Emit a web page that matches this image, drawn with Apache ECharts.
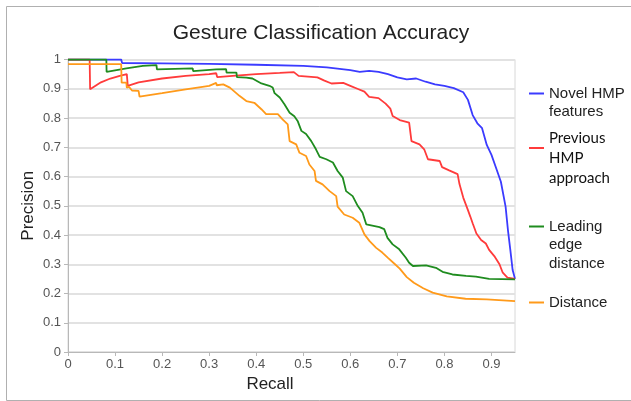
<!DOCTYPE html>
<html><head><meta charset="utf-8">
<script src="https://cdn.jsdelivr.net/npm/echarts@6/dist/echarts.min.js"></script>
<style>html,body{margin:0;padding:0;background:#fff}#c{width:631px;height:401px}</style>
</head><body><div id="c"></div>
<script>
const seriesNames = ['Novel HMP features', 'Previous HMP approach', 'Leading edge distance', 'Distance'];
const xTicks = [0, 0.1, 0.2, 0.3, 0.4, 0.5, 0.6, 0.7, 0.8, 0.9];
const yTicks = [0, 0.1, 0.2, 0.3, 0.4, 0.5, 0.6, 0.7, 0.8, 0.9, 1];

const novelRecall = [0, 0.113, 0.115, 0.2, 0.3, 0.4, 0.5, 0.55, 0.6, 0.62, 0.64, 0.66, 0.68, 0.70, 0.72, 0.74, 0.76, 0.78, 0.80, 0.82, 0.84, 0.85, 0.86, 0.87, 0.88, 0.89, 0.90, 0.91, 0.92, 0.93, 0.935, 0.94, 0.945, 0.95];
const novelPrecision = [1.0, 1.0, 0.988, 0.987, 0.985, 0.982, 0.978, 0.973, 0.964, 0.958, 0.961, 0.958, 0.95, 0.939, 0.932, 0.935, 0.924, 0.915, 0.91, 0.902, 0.888, 0.862, 0.81, 0.782, 0.765, 0.708, 0.674, 0.628, 0.582, 0.497, 0.417, 0.35, 0.28, 0.25];

const prevRecall = [0, 0.046, 0.047, 0.07, 0.09, 0.11, 0.125, 0.127, 0.15, 0.2, 0.25, 0.3, 0.315, 0.317, 0.35, 0.4, 0.45, 0.48, 0.49, 0.53, 0.545, 0.56, 0.585, 0.6, 0.615, 0.63, 0.64, 0.66, 0.675, 0.685, 0.69, 0.705, 0.725, 0.73, 0.747, 0.757, 0.765, 0.79, 0.795, 0.81, 0.828, 0.832, 0.84, 0.85, 0.855, 0.86, 0.868, 0.878, 0.888, 0.895, 0.906, 0.917, 0.924, 0.934, 0.95];
const prevPrecision = [1.0, 1.0, 0.898, 0.922, 0.935, 0.944, 0.95, 0.91, 0.922, 0.935, 0.944, 0.95, 0.953, 0.94, 0.944, 0.95, 0.954, 0.957, 0.944, 0.939, 0.928, 0.918, 0.92, 0.91, 0.9, 0.89, 0.872, 0.868, 0.849, 0.832, 0.807, 0.793, 0.784, 0.721, 0.71, 0.693, 0.659, 0.653, 0.632, 0.621, 0.608, 0.574, 0.528, 0.485, 0.463, 0.44, 0.405, 0.383, 0.371, 0.349, 0.328, 0.3, 0.271, 0.254, 0.25];

const edgeRecall = [0, 0.0815, 0.082, 0.124, 0.159, 0.188, 0.189, 0.265, 0.266, 0.315, 0.336, 0.337, 0.358, 0.359, 0.379, 0.392, 0.411, 0.428, 0.435, 0.439, 0.45, 0.46, 0.471, 0.481, 0.488, 0.496, 0.506, 0.517, 0.527, 0.535, 0.549, 0.563, 0.573, 0.584, 0.591, 0.605, 0.616, 0.626, 0.634, 0.662, 0.672, 0.679, 0.69, 0.704, 0.718, 0.725, 0.733, 0.761, 0.782, 0.796, 0.817, 0.846, 0.867, 0.895, 0.95];
const edgePrecision = [1.0, 1.0, 0.958, 0.97, 0.978, 0.981, 0.966, 0.97, 0.96, 0.966, 0.967, 0.955, 0.955, 0.94, 0.938, 0.935, 0.918, 0.91, 0.904, 0.885, 0.87, 0.847, 0.818, 0.806, 0.79, 0.756, 0.745, 0.721, 0.693, 0.667, 0.659, 0.648, 0.619, 0.596, 0.55, 0.533, 0.499, 0.476, 0.436, 0.427, 0.42, 0.39, 0.368, 0.351, 0.322, 0.305, 0.294, 0.296, 0.288, 0.274, 0.265, 0.26, 0.258, 0.25, 0.248];

const distRecall = [0, 0.113, 0.114, 0.124, 0.125, 0.13, 0.136, 0.15, 0.152, 0.2, 0.25, 0.3, 0.315, 0.316, 0.33, 0.344, 0.365, 0.379, 0.396, 0.411, 0.421, 0.446, 0.456, 0.467, 0.471, 0.485, 0.492, 0.506, 0.513, 0.524, 0.527, 0.541, 0.556, 0.57, 0.573, 0.587, 0.605, 0.619, 0.63, 0.641, 0.655, 0.668, 0.68, 0.695, 0.705, 0.72, 0.735, 0.755, 0.775, 0.805, 0.845, 0.89, 0.95];
const distPrecision = [0.984, 0.984, 0.921, 0.921, 0.904, 0.906, 0.894, 0.893, 0.873, 0.885, 0.898, 0.91, 0.92, 0.912, 0.915, 0.904, 0.875, 0.858, 0.852, 0.83, 0.813, 0.813, 0.795, 0.778, 0.721, 0.71, 0.681, 0.67, 0.641, 0.619, 0.585, 0.573, 0.55, 0.533, 0.497, 0.47, 0.459, 0.442, 0.402, 0.379, 0.356, 0.34, 0.322, 0.3, 0.285, 0.256, 0.237, 0.218, 0.203, 0.19, 0.182, 0.18, 0.174];

const colors = ['#3b3bff', '#ff3b3b', '#1f8c1f', '#ff9a1a'];
const pair = (xs, ys) => xs.map((x, i) => [x, ys[i]]);
const seriesData = [
  pair(novelRecall, novelPrecision),
  pair(prevRecall, prevPrecision),
  pair(edgeRecall, edgePrecision),
  pair(distRecall, distPrecision)
];

const sans = "'Liberation Sans', Arial, sans-serif";
const legendBase = {
  orient: 'vertical', left: 529, padding: 0, itemWidth: 15, itemHeight: 2, icon: 'rect',
  selectedMode: false,
  textStyle: { fontFamily: sans, fontSize: 15, color: '#222', lineHeight: 19 }
};

const chart = echarts.init(document.getElementById('c'), null, { renderer: 'canvas' });
chart.setOption({
  animation: false,
  backgroundColor: '#fff',
  title: {
    text: 'Gesture Classification Accuracy', left: 316, top: 18, textAlign: 'center',
    textStyle: { fontFamily: sans, fontSize: 21, fontWeight: 'normal', color: '#222' }
  },
  grid: { left: 68, right: 116, top: 59.5, bottom: 49, show: true, borderColor: '#d8d8d8', borderWidth: 1 },
  xAxis: {
    type: 'value', min: xTicks[0], max: 0.95, interval: 0.1,
    name: 'Recall', nameLocation: 'middle', nameGap: 22,
    nameTextStyle: { fontFamily: sans, fontSize: 17, color: '#222', padding: [0, 43, 0, 0] },
    axisLine: { show: true, lineStyle: { color: '#b8b8b8', width: 1 } },
    axisTick: { show: true, length: 4, lineStyle: { color: '#b8b8b8' } },
    axisLabel: { showMaxLabel: false, fontFamily: sans, fontSize: 13, color: '#555', margin: 6 },
    splitLine: { show: false }
  },
  yAxis: {
    type: 'value', min: yTicks[0], max: yTicks[yTicks.length - 1], interval: 0.1,
    name: 'Precision', nameLocation: 'middle', nameGap: 31, nameRotate: 90, nameMoveOverlap: false,
    nameTextStyle: { fontFamily: sans, fontSize: 17, color: '#222' },
    axisLine: { show: true, lineStyle: { color: '#b8b8b8', width: 1 } },
    axisTick: { show: true, length: 4, lineStyle: { color: '#b8b8b8' } },
    axisLabel: { fontFamily: sans, fontSize: 13, color: '#555', margin: 7 },
    splitLine: { show: true, lineStyle: { color: '#e2e2e2', width: 2 } }
  },
  legend: [
    Object.assign({}, legendBase, { data: [seriesNames[0]], top: 84, formatter: () => 'Novel HMP' }),
    Object.assign({}, legendBase, { data: [seriesNames[1]], top: 128, formatter: () => 'Previous\nHMP',
      textStyle: { fontFamily: 'Lato, sans-serif', fontSize: 15, color: '#111', lineHeight: 20 } }),
    Object.assign({}, legendBase, { data: [seriesNames[2]], top: 217, formatter: () => 'Leading' }),
    Object.assign({}, legendBase, { data: [seriesNames[3]], top: 293, formatter: () => 'Distance' })
  ],
  graphic: [
    { type: 'rect', silent: true, z: -10, shape: { x: 6.5, y: 6.5, width: 700, height: 394 },
      style: { fill: null, stroke: '#b0b0b0', lineWidth: 1 } },
    { type: 'text', x: 549, y: 112, style: { text: 'features', font: "15px 'Liberation Sans'", fill: '#222', verticalAlign: 'middle' } },
    { type: 'text', x: 549, y: 178, style: { text: 'approach', font: '15px Lato', fill: '#111', verticalAlign: 'middle' } },
    { type: 'text', x: 549, y: 245, style: { text: 'edge', font: "15px 'Liberation Sans'", fill: '#222', verticalAlign: 'middle' } },
    { type: 'text', x: 549, y: 264, style: { text: 'distance', font: "15px 'Liberation Sans'", fill: '#222', verticalAlign: 'middle' } }
  ],
  series: seriesNames.map((name, i) => ({
    name, type: 'line', data: seriesData[i], showSymbol: false, symbol: 'none',
    color: colors[i], lineStyle: { width: 1.8, color: colors[i] }
  }))
});
</script></body></html>
